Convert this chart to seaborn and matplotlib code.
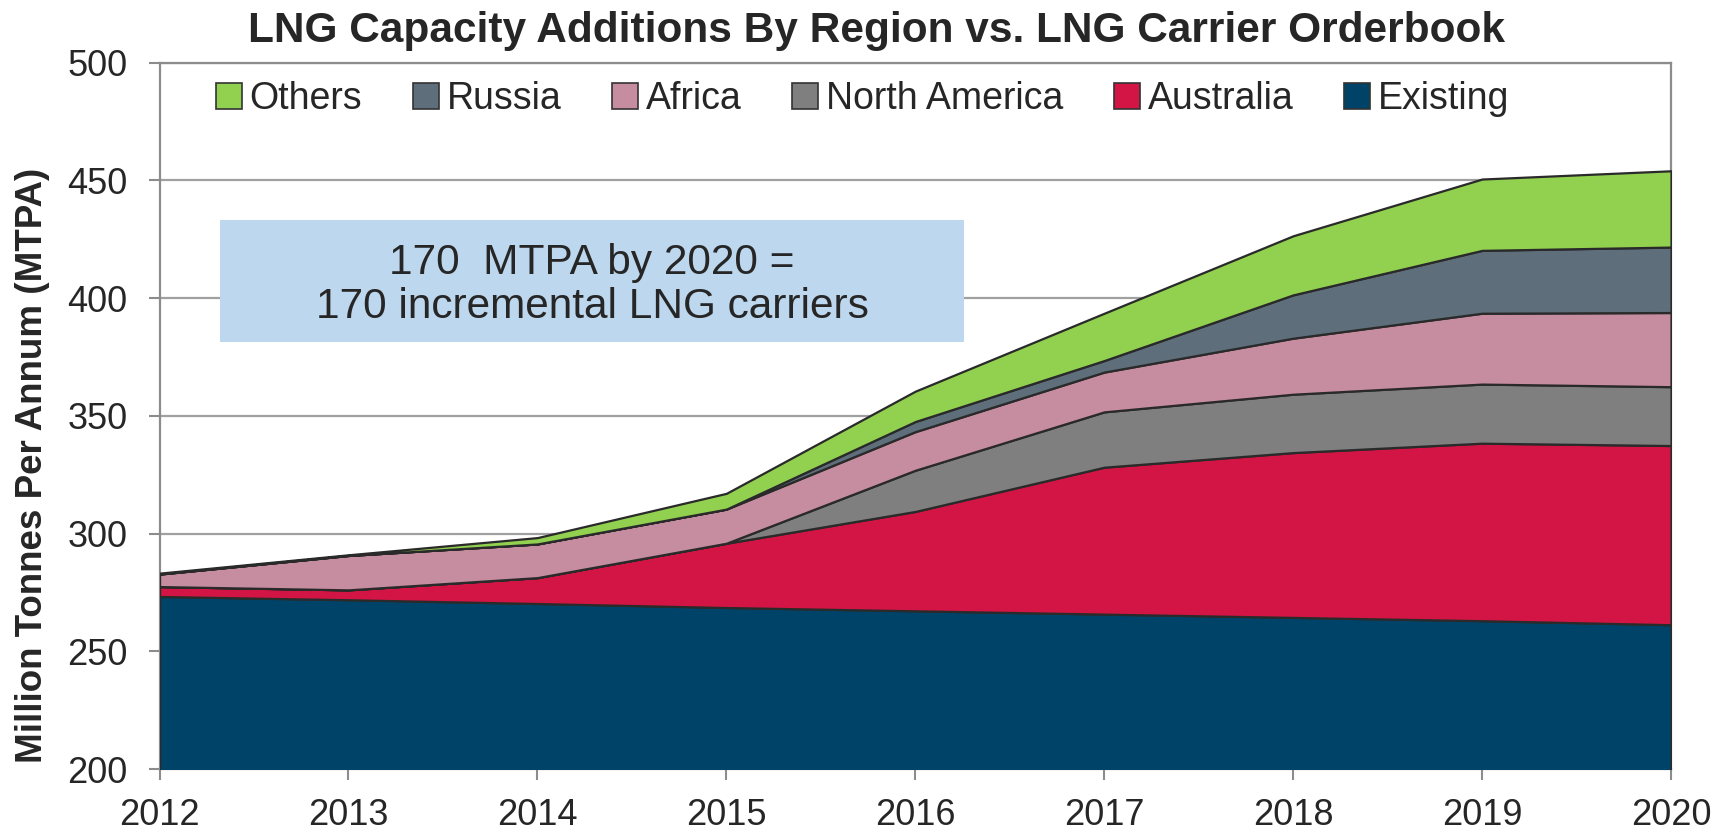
import numpy as np
import matplotlib
matplotlib.use("Agg")
import matplotlib.pyplot as plt
import seaborn as sns
from matplotlib.patches import Patch, Rectangle

# data (MTPA, stacked from bottom)
years = [2012, 2013, 2014, 2015, 2016, 2017, 2018, 2019, 2020]
existing = [273.3, 271.9, 270.3, 268.6, 267.2, 265.8, 264.4, 263.0, 261.3]
australia = [4.2, 4.2, 11.0, 27.3, 42.2, 62.4, 70.0, 75.4, 76.1]
north_america = [0.0, 0.0, 0.0, 0.0, 17.5, 23.5, 24.8, 25.1, 25.0]
africa = [5.3, 14.6, 14.3, 14.5, 16.4, 16.9, 23.8, 30.1, 31.5]
russia = [0.0, 0.0, 0.0, 0.0, 4.3, 4.9, 18.4, 26.7, 27.8]
others = [0.4, 0.3, 2.7, 6.7, 12.9, 20.1, 25.1, 30.3, 32.4]

series_names = ["Existing", "Australia", "North America", "Africa", "Russia", "Others"]
colors = ["#004369", "#D31545", "#7F7F7F", "#C68C9F", "#5E6F7B", "#92D050"]

sns.set_style("white")
plt.rcParams["font.family"] = ["Liberation Sans", "DejaVu Sans"]

fig = plt.figure(figsize=(17.25, 8.32), dpi=100)
ax = fig.add_axes([0.0925, 0.0757, 0.8762, 0.8489])

ax.stackplot(years, existing, australia, north_america, africa, russia, others,
             colors=colors, edgecolor="#2a2a2a", linewidth=1.6, zorder=3)

ax.set_xlim(2012, 2020)
ax.set_ylim(200, 500)
ax.set_xticks(years)
ax.set_yticks(np.arange(200, 501, 50))
ax.yaxis.grid(True, color="#A0A0A0", linewidth=1.6, zorder=0)
ax.set_axisbelow(True)
for s in ax.spines.values():
    s.set_color("#8C8C8C")
    s.set_linewidth(1.6)
ax.tick_params(axis="both", which="both", direction="out", length=8, width=1.5,
               color="#8C8C8C", labelsize=26, labelcolor="#262626", left=True, bottom=True)
ax.tick_params(axis="y", pad=15)
ax.tick_params(axis="x", pad=13)

ax.set_ylabel("Million Tonnes Per Annum (MTPA)", fontsize=26.5, fontweight="bold",
              color="#262626")
ax.yaxis.set_label_coords(-0.0725, 0.43)

fig.text(0.508, 0.963, "LNG Capacity Additions By Region vs. LNG Carrier Orderbook",
         ha="center", va="center", fontsize=30.5, fontweight="bold", color="#262626")

# callout box
ax.add_patch(Rectangle((2012.32, 381.4), 3.94, 51.8, facecolor="#BDD7EE",
                       edgecolor="none", zorder=4))
ax.text(2014.29, 405.5, "170  MTPA by 2020 =\n170 incremental LNG carriers",
        ha="center", va="center", fontsize=30.5, color="#262626",
        linespacing=1.12, zorder=5)

handles = [Patch(facecolor=c, edgecolor="#333333", linewidth=1.2, label=n)
           for n, c in zip(series_names, colors)][::-1]
ax.legend(handles=handles, loc="center", bbox_to_anchor=(0.465, 0.948), ncol=6,
          frameon=False, fontsize=27, handlelength=0.7, handleheight=0.7,
          handletextpad=0.2, columnspacing=1.35, labelcolor="#262626")

fig.savefig("out.png", dpi=100)
